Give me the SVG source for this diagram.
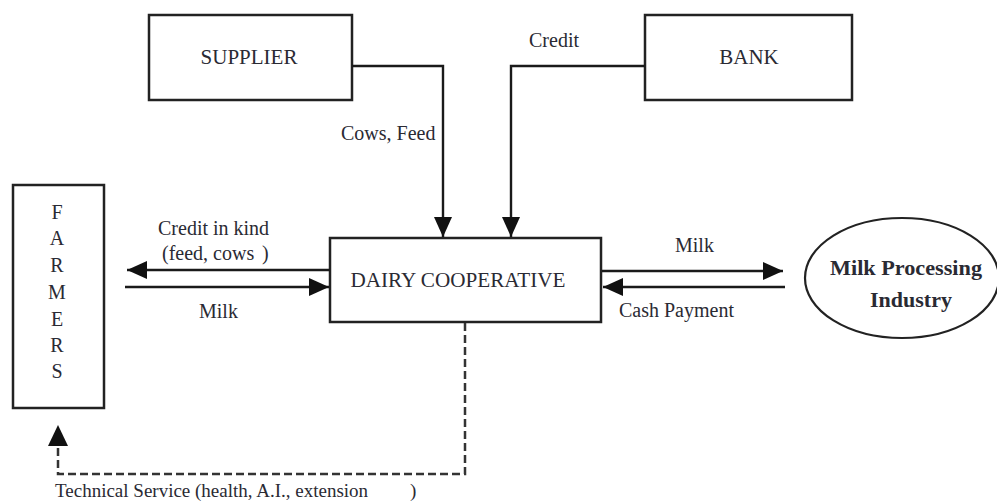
<svg xmlns="http://www.w3.org/2000/svg" width="997" height="502" viewBox="0 0 997 502">
<style>
.box{fill:#fff;stroke:#222;stroke-width:2.5}
.ln{fill:none;stroke:#1a1a1a;stroke-width:2.4}
.dash{fill:none;stroke:#333;stroke-width:2.5;stroke-dasharray:8 4}
text{font-family:'Liberation Serif','Times New Roman','DejaVu Serif',serif;fill:#2a2a33}
.lbl{font-size:20px}
.nm{font-size:21px}
.b{font-size:22px;font-weight:bold}
</style>
<defs>
<marker id="ah" viewBox="0 0 20 18" refX="20" refY="9" markerWidth="20" markerHeight="18" markerUnits="userSpaceOnUse" orient="auto">
<path d="M0,0 L20,9 L0,18 z" fill="#111"/>
</marker>
</defs>
<rect width="997" height="502" fill="#fff"/>
<g id="supplier">
<rect class="box" x="149" y="15" width="203" height="85"/>
<text class="nm" x="249" y="64" text-anchor="middle">SUPPLIER</text>
</g>
<g id="bank">
<rect class="box" x="645" y="15" width="207" height="85"/>
<text class="nm" x="749" y="64" text-anchor="middle">BANK</text>
</g>
<g id="farmers">
<rect class="box" x="13" y="185" width="91" height="223"/>
<g font-size="20" text-anchor="middle">
<text x="57" y="219">F</text>
<text x="57" y="245">A</text>
<text x="57" y="272">R</text>
<text x="57" y="299">M</text>
<text x="57" y="326">E</text>
<text x="57" y="352">R</text>
<text x="57" y="378">S</text>
</g>
</g>
<g id="dairy">
<rect class="box" x="330" y="238" width="271" height="84"/>
<text class="nm" x="458" y="287" text-anchor="middle" textLength="215" lengthAdjust="spacingAndGlyphs">DAIRY COOPERATIVE</text>
</g>
<g id="industry">
<ellipse cx="902" cy="278" rx="97" ry="60" fill="#fff" stroke="#222" stroke-width="2.2"/>
<text class="b" x="906" y="275" text-anchor="middle" textLength="152" lengthAdjust="spacingAndGlyphs">Milk Processing</text>
<text class="b" x="911" y="307" text-anchor="middle">Industry</text>
</g>
<g id="connectors">
<polyline class="ln" points="352,66 443,66 443,237" marker-end="url(#ah)"/>
<polyline class="ln" points="645,66 511,66 511,237" marker-end="url(#ah)"/>
<line class="ln" x1="330" y1="270" x2="127" y2="270" marker-end="url(#ah)"/>
<line class="ln" x1="125" y1="287" x2="329" y2="287" marker-end="url(#ah)"/>
<line class="ln" x1="602" y1="271" x2="783" y2="271" marker-end="url(#ah)"/>
<line class="ln" x1="785" y1="287" x2="603" y2="287" marker-end="url(#ah)"/>
<polyline class="dash" points="465,323 465,474 58,474 58,446"/>
<path d="M48,446 L58,425 L68,446 z" fill="#111"/>
</g>
<g id="labels" class="lbl">
<text x="529" y="47">Credit</text>
<text x="341" y="140">Cows, Feed</text>
<text x="158" y="235">Credit in kind</text>
<text x="162" y="260">(feed, cows<tspan x="262">)</tspan></text>
<text x="199" y="318">Milk</text>
<text x="675" y="252">Milk</text>
<text x="619" y="317">Cash Payment</text>
<text x="55" y="497" font-size="19">Technical Service (health, A.I., extension<tspan x="410">)</tspan></text>
</g>
</svg>
